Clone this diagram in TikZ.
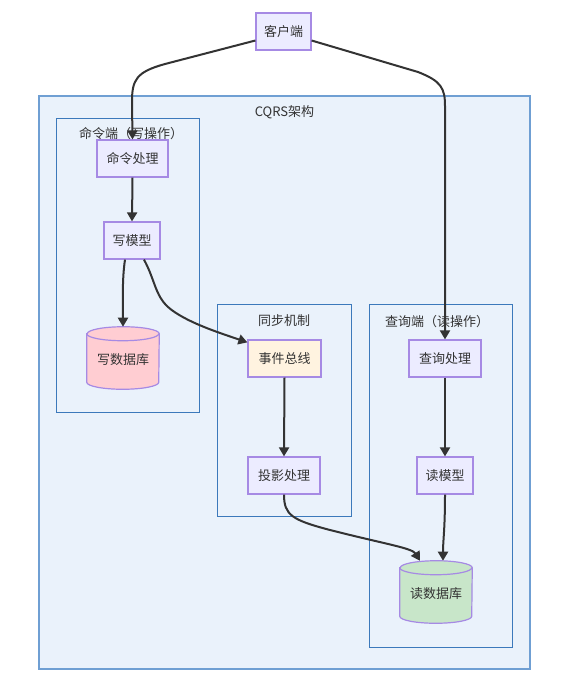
\documentclass[tikz,border=0pt]{standalone}
\usepackage{fontspec}
\setmainfont{Noto Sans CJK SC}
\usetikzlibrary{arrows.meta}
\definecolor{nodefill}{HTML}{ECECFF}
\definecolor{nodestroke}{HTML}{A68AE4}
\definecolor{grpfill}{HTML}{EAF2FB}
\definecolor{outerstroke}{HTML}{6F9FD3}
\definecolor{innerstroke}{HTML}{3C79BB}
\definecolor{edgec}{HTML}{333333}
\definecolor{txtc}{HTML}{333333}
\definecolor{pinkc}{HTML}{FFCDD2}
\definecolor{greenc}{HTML}{C8E6C9}
\definecolor{yellowc}{HTML}{FFF3E0}
\tikzset{
  x=0.75pt, y=-0.75pt,
  every node/.style={font=\fontsize{9.75pt}{12pt}\selectfont, text=txtc, inner sep=0pt},
  procbox/.style={draw=nodestroke, fill=nodefill, line width=0.9pt, minimum height=27.75pt},
  dbnode/.style={minimum width=54pt, minimum height=46.5pt},
  cylline/.style={draw=nodestroke, line width=0.9pt},
  outergrp/.style={draw=outerstroke, fill=grpfill, line width=0.8pt},
  innergrp/.style={draw=innerstroke, fill=grpfill, line width=0.75pt},
  grptitle/.style={anchor=center},
  edge/.style={draw=edgec, line width=1.5pt, -{Triangle[length=6.75pt,width=7.5pt]}}
}
\newcommand{\mycyl}[2]{%
  \path[cylline, fill=#2] ([yshift=-5.25pt]#1.north west) -- ([yshift=5.25pt]#1.south west)
    arc[start angle=180, end angle=360, x radius=27pt, y radius=5.25pt]
    -- ([yshift=-5.25pt]#1.north east)
    arc[start angle=0, end angle=180, x radius=27pt, y radius=5.25pt] -- cycle;
  \draw[cylline] ([yshift=-5.25pt]#1.north west)
    arc[start angle=180, end angle=360, x radius=27pt, y radius=5.25pt];
}
\begin{document}
\begin{tikzpicture}
\useasboundingbox[fill=white] (0,0) rectangle (561,675);
% groups
\path[outergrp] (39,96) rectangle (530,669);
\node[grptitle] (tcqrs) at (284.5,112) {CQRS架构};
\path[innergrp] (56,118) rectangle (199,412);
\path[innergrp] (217,304) rectangle (351,516);
\path[innergrp] (369,304) rectangle (512,647);
\node[grptitle] (tsync) at (284,321) {同步机制};
\node[grptitle] (tqry) at (437,322) {查询端（读操作）};
\node[grptitle] (tcmd) at (131,134) {命令端（写操作）};
% nodes
\node[procbox, minimum width=41.25pt] (client) at (283.5,31.5) {客户端};
\node[procbox, minimum width=53.25pt] (cmd) at (132.5,158.5) {命令处理};
\node[procbox, minimum width=42pt] (wm) at (132,240.5) {写模型};
\node[dbnode] (wdb) at (123,358) {};
\mycyl{wdb}{pinkc}
\node at (wdb.center) [yshift=-1.5pt] {写数据库};
\node[procbox, fill=yellowc, minimum width=54.75pt] (eb) at (284.5,358.5) {事件总线};
\node[procbox, minimum width=54pt] (proj) at (284,475.5) {投影处理};
\node[procbox, minimum width=54pt] (qry) at (445,358.5) {查询处理};
\node[procbox, minimum width=42pt] (rm) at (445,475.5) {读模型};
\node[dbnode] (rdb) at (436,592) {};
\mycyl{rdb}{greenc}
\node at (rdb.center) [yshift=-1.5pt] {读数据库};
% edges
\draw[edge] ([yshift=-6.75pt]client.west) -- (165,64) .. controls (136,72) and (132,80) .. (132,102) -- (cmd.north);
\draw[edge] ([yshift=-6.75pt]client.east) -- (418,72) .. controls (441,81) and (445,88) .. (445,106) -- (qry.north);
\draw[edge] (cmd.south) -- (wm.north);
\draw[edge] ([xshift=-5.25pt]wm.south) .. controls (122,280) and (123,300) .. (wdb.north);
\draw[edge] ([xshift=9pt]wm.south) .. controls (155,280) and (155,295) .. (168,307) .. controls (185,322) and (220,333) .. ([yshift=-2.25pt]eb.north west);
\draw[edge] (eb.south) -- (proj.north);
\draw[edge] (proj.south) .. controls (284,515) and (292,520) .. (330,530) .. controls (385,544) and (412,548) .. ([xshift=-12pt]rdb.north);
\draw[edge] (qry.south) -- (rm.north);
\draw[edge] (rm.south) .. controls (445,530) and (443,540) .. ([xshift=5.25pt]rdb.north);
\end{tikzpicture}
\end{document}
